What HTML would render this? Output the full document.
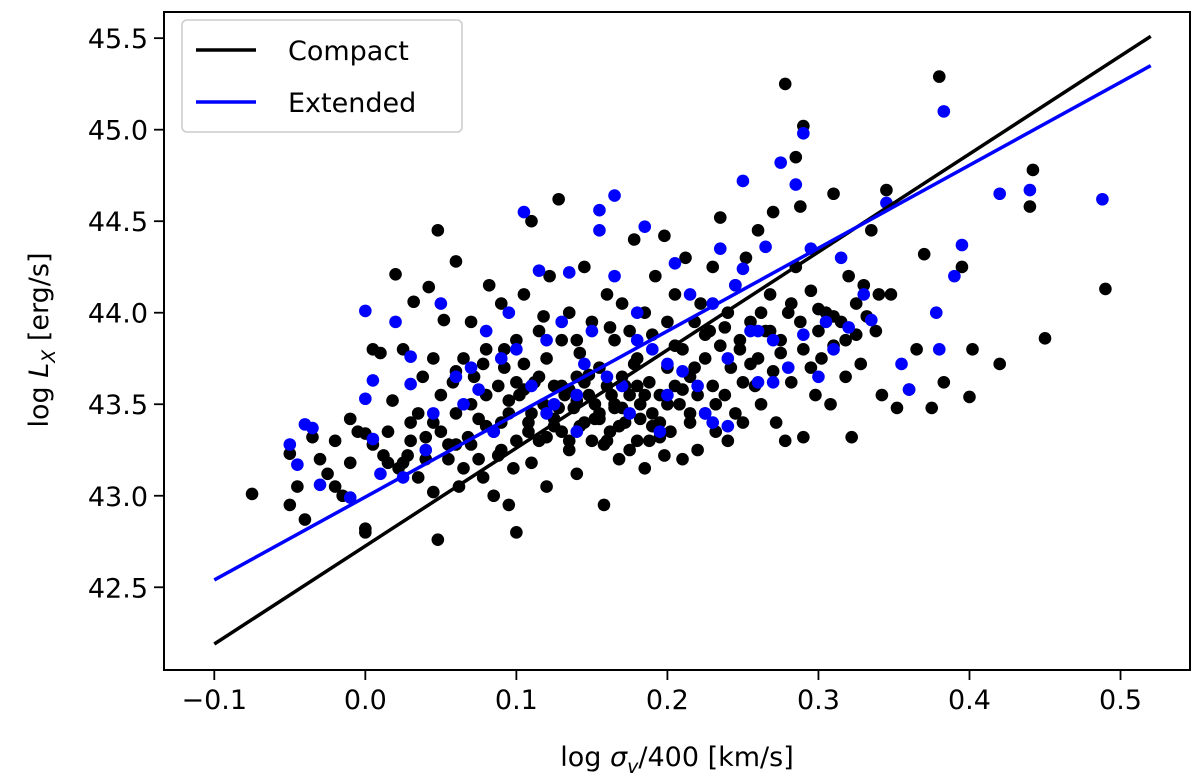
<!DOCTYPE html>
<html><head><meta charset="utf-8"><style>
html,body{margin:0;padding:0;background:#fff;}
svg{display:block;font-family:"DejaVu Sans","Liberation Sans",sans-serif;}
</style></head><body>
<svg id="chart" width="1200" height="781" viewBox="0 0 1200 781" xmlns="http://www.w3.org/2000/svg">
<g id="points"></g>
<g id="lines"></g>
<rect x="164" y="12" width="1026" height="658" fill="none" stroke="#000" stroke-width="2"/>
<g id="xticks"></g>
<g id="yticks"></g>
<text x="677" y="766" font-size="27" text-anchor="middle">log <tspan font-style="italic">σ</tspan><tspan font-size="19" dy="7" font-style="italic">v</tspan><tspan dy="-7">/400 [km/s]</tspan></text>
<text transform="translate(48,340) rotate(-90)" font-size="27" text-anchor="middle">log <tspan font-style="italic">L</tspan><tspan font-size="19" dy="7" font-style="italic">X</tspan><tspan dy="-7"> [erg/s]</tspan></text>
<g>
<rect x="182" y="20" width="280" height="112" rx="5" fill="#fff" fill-opacity="0.85" stroke="#ccc" stroke-width="1.5"/>
<line x1="196" y1="50" x2="256" y2="50" stroke="#000" stroke-width="3.5"/>
<text x="288" y="60" font-size="27">Compact</text>
<line x1="196" y1="102" x2="256" y2="102" stroke="#0000ff" stroke-width="3.5"/>
<text x="288" y="112" font-size="27">Extended</text>
</g>
</svg>
<script>
const xTicks=[-0.1,0.0,0.1,0.2,0.3,0.4,0.5];
const xTickLabels=["\u22120.1","0.0","0.1","0.2","0.3","0.4","0.5"];
const yTicks=[42.5,43.0,43.5,44.0,44.5,45.0,45.5];
const yTickLabels=["42.5","43.0","43.5","44.0","44.5","45.0","45.5"];
const compactLine=[[-0.1,42.19],[0.52,45.51]];
const extendedLine=[[-0.1,42.54],[0.52,45.35]];
const compactX=[-0.075,-0.05,-0.045,-0.04,-0.05,-0.035,-0.03,-0.025,-0.02,-0.02,-0.015,-0.01,-0.01,-0.005,0.0,0.0,0.0,0.005,0.005,0.01,0.012,0.015,0.018,0.02,0.022,0.025,0.028,0.03,0.032,0.035,0.035,0.038,0.04,0.04,0.042,0.045,0.045,0.048,0.05,0.048,0.05,0.052,0.055,0.058,0.06,0.06,0.062,0.065,0.065,0.068,0.07,0.07,0.072,0.075,0.075,0.078,0.08,0.08,0.082,0.085,0.085,0.088,0.09,0.09,0.092,0.095,0.095,0.098,0.1,0.1,0.1,0.102,0.105,0.105,0.108,0.11,0.11,0.112,0.115,0.115,0.118,0.12,0.12,0.122,0.125,0.125,0.128,0.13,0.13,0.132,0.135,0.135,0.138,0.14,0.14,0.142,0.145,0.145,0.148,0.15,0.15,0.152,0.155,0.155,0.158,0.16,0.16,0.162,0.165,0.165,0.168,0.17,0.17,0.172,0.175,0.175,0.178,0.18,0.18,0.182,0.185,0.185,0.188,0.19,0.19,0.192,0.195,0.195,0.198,0.2,0.2,0.202,0.205,0.205,0.208,0.21,0.21,0.212,0.215,0.215,0.218,0.22,0.22,0.222,0.225,0.225,0.228,0.23,0.23,0.232,0.235,0.235,0.238,0.24,0.24,0.242,0.245,0.245,0.248,0.25,0.25,0.252,0.255,0.258,0.26,0.26,0.262,0.265,0.268,0.27,0.27,0.272,0.275,0.278,0.278,0.28,0.282,0.285,0.285,0.288,0.29,0.29,0.29,0.295,0.298,0.3,0.302,0.305,0.308,0.31,0.31,0.315,0.318,0.32,0.322,0.325,0.328,0.33,0.332,0.335,0.338,0.34,0.342,0.345,0.348,0.352,0.36,0.365,0.37,0.375,0.383,0.38,0.395,0.4,0.402,0.42,0.44,0.442,0.45,0.49,0.11,0.125,0.14,0.155,0.17,0.185,0.2,0.13,0.16,0.19,0.215,0.145,0.175,0.09,0.06,0.025,0.105,0.135,0.165,0.195,
0.115,0.12,0.128,0.135,0.142,0.148,0.152,0.158,0.163,0.168,0.172,0.178,0.182,0.188,0.205,0.21,0.218,0.225,0.232,0.238,0.248,0.255,0.262,0.268,0.275,0.282,0.288,0.295,0.3,0.31,0.318,0.325,0.07,0.08,0.088,0.095,0.1,0.108,0.045,0.055,0.03,0.015,0.06,0.078,0.092,0.118,0.14,0.162,0.18,0.198];
const compactY=[43.01,42.95,43.05,42.87,43.23,43.32,43.2,43.12,43.3,43.05,43.0,43.42,43.18,43.35,43.34,42.82,42.8,43.28,43.8,43.78,43.22,43.35,43.52,44.21,43.15,43.8,43.22,43.4,44.06,43.45,43.1,43.65,43.2,43.32,44.14,43.75,43.02,44.45,43.35,42.76,43.55,43.96,43.2,43.62,44.28,43.45,43.05,43.15,43.75,43.32,43.5,43.95,43.65,43.2,43.42,43.1,43.8,43.55,44.15,43.35,43.0,43.6,44.05,43.25,43.7,43.45,42.95,43.15,43.85,43.3,42.8,43.55,44.1,43.72,43.4,44.5,43.18,43.62,43.9,43.3,43.5,43.05,43.75,44.2,43.42,43.6,44.62,43.35,43.85,43.55,43.25,44.0,43.48,43.65,43.12,43.78,43.4,44.25,43.55,43.3,43.95,43.5,43.7,43.45,42.95,43.6,44.1,43.35,43.85,43.5,43.2,44.05,43.65,43.4,43.9,43.55,44.4,43.3,43.75,43.5,44.0,43.15,43.62,43.45,43.88,44.2,43.55,43.32,44.42,43.7,43.95,43.35,43.6,44.1,43.5,43.2,43.8,44.3,43.65,43.4,43.95,43.55,43.25,44.05,43.75,43.45,43.9,43.6,44.25,43.35,44.52,43.82,43.55,44.0,43.3,43.7,44.15,43.45,43.85,43.62,43.4,44.3,43.95,43.6,44.45,43.75,43.5,43.9,44.1,43.68,44.55,43.4,43.85,45.25,43.3,44.0,43.62,44.25,44.85,44.58,43.8,45.02,43.32,44.12,43.55,43.9,43.75,44.0,43.5,44.65,43.82,43.95,43.65,44.2,43.32,43.88,43.72,44.15,43.98,44.45,43.9,44.1,43.55,44.67,44.1,43.48,43.58,43.8,44.32,43.48,43.62,45.29,44.25,43.54,43.8,43.72,44.58,44.78,43.86,44.13,43.45,43.38,43.52,43.42,43.48,43.55,43.5,43.6,43.3,43.38,43.45,43.62,43.25,43.4,43.28,43.18,43.58,43.3,43.48,43.4,
43.65,43.32,43.48,43.58,43.38,43.66,43.42,43.28,43.55,43.38,43.6,43.72,43.42,43.3,43.82,43.58,43.7,43.88,43.5,43.92,43.8,43.72,44.0,43.9,43.78,44.05,43.95,43.7,44.02,43.98,43.85,44.05,43.28,43.38,43.22,43.52,43.62,43.35,43.4,43.28,43.3,43.18,43.68,43.72,43.8,43.98,43.85,43.92,43.6,43.22];
const extendedX=[-0.05,-0.045,-0.04,-0.035,-0.03,-0.01,0.0,0.0,0.005,0.005,0.01,0.02,0.025,0.03,0.03,0.04,0.045,0.05,0.06,0.065,0.07,0.075,0.08,0.085,0.09,0.095,0.1,0.105,0.11,0.115,0.12,0.125,0.13,0.135,0.14,0.145,0.15,0.155,0.155,0.16,0.165,0.165,0.17,0.175,0.18,0.185,0.19,0.195,0.2,0.205,0.21,0.215,0.22,0.225,0.23,0.235,0.24,0.245,0.25,0.25,0.255,0.26,0.265,0.27,0.275,0.28,0.285,0.29,0.295,0.3,0.305,0.31,0.315,0.32,0.33,0.335,0.345,0.355,0.36,0.378,0.38,0.383,0.39,0.395,0.42,0.44,0.488,0.23,0.27,0.24,0.2,0.18,0.14,0.12,0.26,0.29];
const extendedY=[43.28,43.17,43.39,43.37,43.06,42.99,44.01,43.53,43.63,43.31,43.12,43.95,43.1,43.76,43.61,43.25,43.45,44.05,43.65,43.5,43.7,43.58,43.9,43.35,43.75,44.0,43.8,44.55,43.6,44.23,43.85,43.5,43.95,44.22,43.55,43.72,43.9,44.45,44.56,43.65,44.64,44.2,43.6,43.45,44.0,44.47,43.8,43.35,43.55,44.27,43.68,44.1,43.6,43.45,44.05,44.35,43.75,44.15,44.72,44.24,43.9,43.62,44.36,43.85,44.82,43.7,44.7,44.98,44.35,43.65,43.95,43.8,44.3,43.92,44.1,43.96,44.6,43.72,43.58,44.0,43.8,45.1,44.2,44.37,44.65,44.67,44.62,43.4,43.62,43.38,43.72,43.85,43.35,43.45,43.9,43.88];

const NS='http://www.w3.org/2000/svg';
const X0=164,X1=1190,XMIN=-0.1333,XMAX=0.546;
const Y0=670,Y1=12,YMIN=42.048,YMAX=45.643;
function xs(v){return X0+(v-XMIN)/(XMAX-XMIN)*(X1-X0);}
function ys(v){return Y0-(v-YMIN)/(YMAX-YMIN)*(Y0-Y1);}
function mk(tag,parent,attrs){const e=document.createElementNS(NS,tag);for(const k in attrs)e.setAttribute(k,attrs[k]);parent.appendChild(e);return e;}
const pts=document.getElementById('points');
for(let i=0;i<compactX.length;i++){
  const c=mk('circle',pts,{cx:xs(compactX[i]),cy:ys(compactY[i]),r:6.3,fill:'#000'});
  
  
}
for(let i=0;i<extendedX.length;i++){
  const c=mk('circle',pts,{cx:xs(extendedX[i]),cy:ys(extendedY[i]),r:6.3,fill:'#0000ff'});
  
  
}
const lg=document.getElementById('lines');
const l1=mk('line',lg,{x1:xs(compactLine[0][0]),y1:ys(compactLine[0][1]),x2:xs(compactLine[1][0]),y2:ys(compactLine[1][1]),stroke:'#000','stroke-width':3.5});


const l2=mk('line',lg,{x1:xs(extendedLine[0][0]),y1:ys(extendedLine[0][1]),x2:xs(extendedLine[1][0]),y2:ys(extendedLine[1][1]),stroke:'#0000ff','stroke-width':3.5});


const xg=document.getElementById('xticks');
xTicks.forEach((t,i)=>{
  const x=xs(t);
  const tk=mk('line',xg,{x1:x,y1:670,x2:x,y2:680,stroke:'#000','stroke-width':1.8});
  
  
  const tx=mk('text',xg,{x:x,y:709,'font-size':27,'text-anchor':'middle'});
  tx.textContent=xTickLabels[i];
  
  
});
const yg=document.getElementById('yticks');
yTicks.forEach((t,i)=>{
  const y=ys(t);
  const tk=mk('line',yg,{x1:154,y1:y,x2:164,y2:y,stroke:'#000','stroke-width':1.8});
  
  
  const tx=mk('text',yg,{x:148,y:y+10,'font-size':27,'text-anchor':'end'});
  tx.textContent=yTickLabels[i];
  
  
});
</script>
</body></html>
